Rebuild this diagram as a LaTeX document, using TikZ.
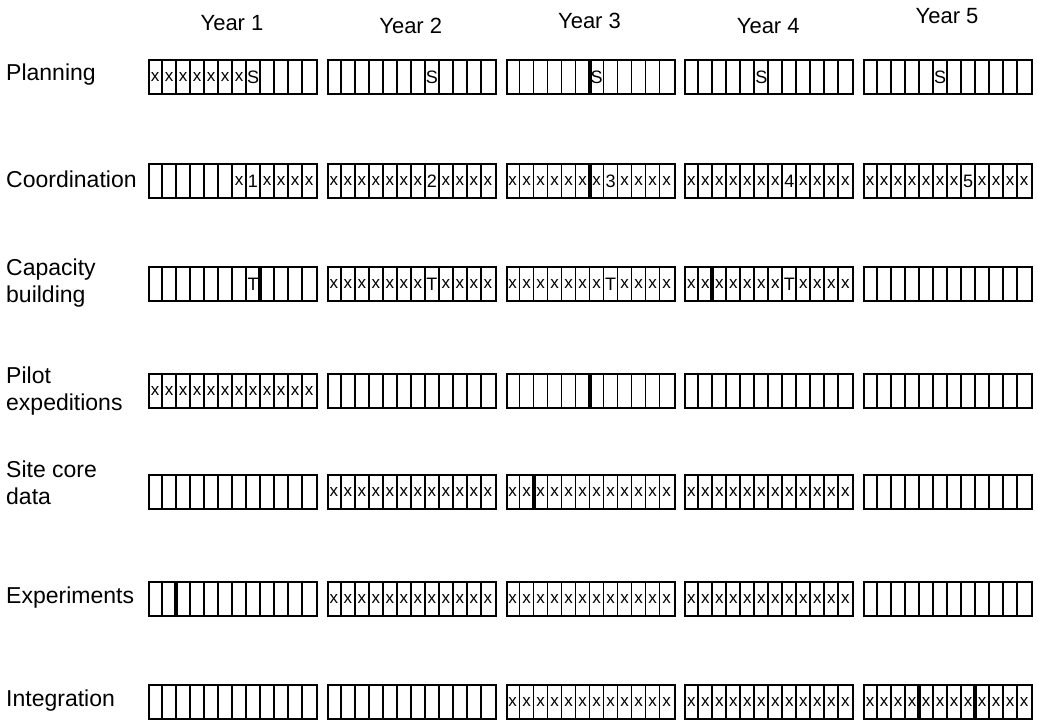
\documentclass[tikz,border=0pt]{standalone}
\usepackage{fontspec}
\setmainfont{Liberation Sans}
\usetikzlibrary{calc}

% one month cell is 14pt wide, a year block is 12 cells
\newcommand{\xmarks}[3]{%
  \foreach \m in {#3}
    \node[xmark] (c-#1-#2-\m) at ($(b-#1-#2.west)+({14*\m-7},0)$) {x};}
\newcommand{\tagmark}[4]{%
  \node[tagtext] (t-#1-#2-#3) at ($(b-#1-#2.west)+({14*#3-7},0)$) {#4};}
\newcommand{\nowline}[3]{%
  \draw[nowbar] ($(b-#1-#2.north west)+({14*#3},0)$) -- ($(b-#1-#2.south west)+({14*#3},0)$);}

\begin{document}
\begin{tikzpicture}[x=1pt, y=-1pt,
  block/.style={rectangle, draw=black, line width=2pt, fill=white,
    minimum width=168pt, minimum height=34pt, inner sep=0pt, anchor=north west},
  divider/.style={line width=1.6pt, black},
  nowbar/.style={line width=4pt, black},
  xmark/.style={font=\fontsize{17}{17}\selectfont, inner sep=0pt},
  tagtext/.style={font=\fontsize{18}{18}\selectfont, inner sep=0pt},
  rowlbl/.style={anchor=west, align=left, font=\fontsize{23}{27}\selectfont, inner sep=0pt},
  yrlbl/.style={font=\fontsize{22}{26}\selectfont, inner sep=0pt},
]
\useasboundingbox (0,0) rectangle (1038,720);

% Year headers
\foreach \yr/\ty in {1/23, 2/26, 3/21, 4/26, 5/16}
  \node[yrlbl] (yr-\yr) at ({232+178.75*(\yr-1)},\ty) {Year \yr};

% Year blocks with month dividers
\foreach \r/\ty in {1/59, 2/163, 3/266, 4/373, 5/474, 6/581, 7/684} {
  \foreach \yr in {1,...,5} {
    \node[block] (b-\r-\yr) at ({148+178.75*(\yr-1)},\ty) {};
    \foreach \m in {1,...,11}
      \draw[divider] ($(b-\r-\yr.north west)+(14*\m,0)$) -- ($(b-\r-\yr.south west)+(14*\m,0)$);
  }
}

% Row labels
\node[rowlbl] (l-1) at (6,75) {Planning};
\node[rowlbl] (l-2) at (6,179) {Coordination};
\node[rowlbl] (l-3) at (6,283) {Capacity\\building};
\node[rowlbl] (l-4) at (6,391) {Pilot\\expeditions};
\node[rowlbl] (l-5) at (6,483) {Site core\\data};
\node[rowlbl] (l-6) at (6,598) {Experiments};
\node[rowlbl] (l-7) at (6,701) {Integration};

% Planning
\xmarks{1}{1}{1,...,7}
\tagmark{1}{1}{8}{S}
\tagmark{1}{2}{8}{S}
\tagmark{1}{3}{7}{S}
\tagmark{1}{4}{6}{S}
\tagmark{1}{5}{6}{S}
\nowline{1}{3}{6}

% Coordination
\xmarks{2}{1}{7,9,10,11,12}
\tagmark{2}{1}{8}{1}
\foreach \yr in {2,...,5} {
  \xmarks{2}{\yr}{1,...,7,9,10,11,12}
  \tagmark{2}{\yr}{8}{\yr}
}
\nowline{2}{3}{6}

% Capacity building
\tagmark{3}{1}{8}{T}
\foreach \yr in {2,3,4} {
  \xmarks{3}{\yr}{1,...,7,9,10,11,12}
  \tagmark{3}{\yr}{8}{T}
}
\nowline{3}{1}{8}
\nowline{3}{4}{2}

% Pilot expeditions
\xmarks{4}{1}{1,...,12}
\nowline{4}{3}{6}

% Site core data
\foreach \yr in {2,3,4} {\xmarks{5}{\yr}{1,...,12}}
\nowline{5}{3}{2}

% Experiments
\foreach \yr in {2,3,4} {\xmarks{6}{\yr}{1,...,12}}
\nowline{6}{1}{2}

% Integration
\foreach \yr in {3,4,5} {\xmarks{7}{\yr}{1,...,12}}
\nowline{7}{5}{4}
\nowline{7}{5}{8}

\end{tikzpicture}
\end{document}
